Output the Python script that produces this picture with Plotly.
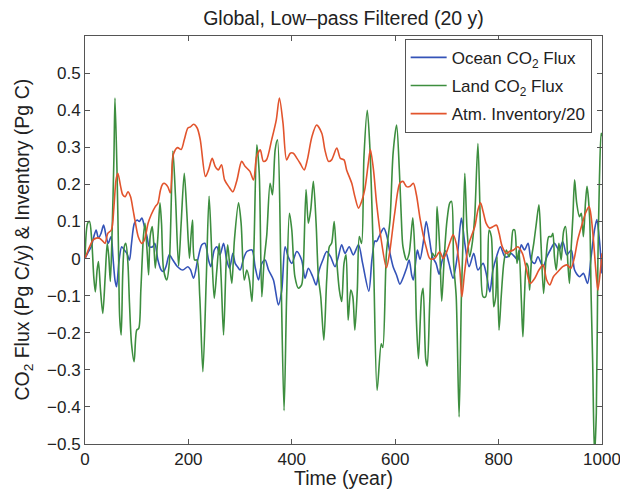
import plotly.graph_objects as go

# ---------------- data ----------------
ocean_years = [0, 5, 12, 17, 21.5, 26, 31, 36, 41, 45, 50.5, 54, 58, 61, 66, 71, 76, 81, 86, 90,
               95.5, 101, 105, 110, 115, 120, 124.5, 131, 135, 141, 147, 152, 157, 163, 170, 179,
               189, 199, 204, 210, 218, 226, 232, 239, 243.5, 250, 255, 261, 268, 274, 279.6, 286,
               290.5, 295, 300, 307, 313, 323, 329, 335.6, 342, 348.5, 355, 364.5, 374, 380.6, 387,
               393, 400, 409.6, 419, 425.6, 432, 440.5, 447, 453, 460, 467.5, 475, 483.6, 490, 496.5,
               503, 511, 519, 529, 537, 549, 555, 561, 564, 569, 578, 584, 590, 596, 602.7, 609,
               615.5, 622, 627, 632, 635, 640, 643, 648, 654, 660, 666, 672, 679, 685, 690, 697,
               704, 712, 720, 728, 734.6, 743, 752, 760, 770, 776, 783, 789, 796, 803.5, 812, 818,
               824, 831, 837, 844, 850, 857, 863, 870, 876, 886, 893.5, 900, 908, 917, 924, 932,
               940.5, 947, 956.5, 964, 972, 979, 985.5, 990, 995, 1000]
ocean_flux = [0.0, 0.014, 0.032, 0.059, 0.077, 0.055, 0.068, 0.09, 0.059, 0.041, 0.059, 0.005, -0.058,
              -0.076, -0.004, 0.032, 0.023, 0.014, -0.004, 0.041, 0.095, 0.104, 0.1, 0.109, 0.086,
              0.059, 0.032, 0.032, 0.041, -0.004, -0.03, -0.035, -0.02, 0.01, -0.004, -0.022, -0.031,
              -0.022, -0.03, -0.053, -0.004, 0.037, 0.041, -0.004, -0.022, 0.023, 0.032, 0.01, 0.041,
              -0.004, -0.026, 0.014, -0.013, -0.022, -0.031, 0.001, 0.019, 0.023, -0.022, -0.058,
              -0.013, -0.004, -0.031, -0.058, -0.125, -0.085, 0.032, 0.005, -0.013, 0.019, -0.004,
              -0.053, -0.026, -0.049, -0.071, -0.031, -0.004, 0.019, 0.005, -0.022, 0.005, 0.037,
              0.014, 0.032, 0.01, 0.037, -0.013, -0.088, -0.002, 0.048, 0.046, 0.06, 0.082, 0.06,
              0.014, -0.022, -0.045, -0.069, -0.051, -0.026, -0.004, -0.045, -0.058, -0.004, 0.023,
              -0.002, 0.041, 0.1, 0.055, 0.005, -0.013, -0.042, -0.01, 0.021, -0.013, -0.053, 0.005,
              0.109, 0.041, -0.022, 0.014, -0.031, -0.013, -0.04, -0.09, -0.031, 0.005, 0.032,
              0.005, 0.005, 0.014, 0.005, -0.004, 0.037, 0.023, 0.041, -0.004, -0.013, 0.005,
              -0.022, 0.005, 0.023, 0.041, 0.023, 0.046, 0.01, 0.023, -0.031, -0.049, -0.04,
              -0.067, 0.005, 0.077, 0.105, 0.05, -0.04]

land_years = [0, 5, 8.7, 13, 17, 20, 23.5, 26, 30, 34.4, 39, 43, 46, 49, 52, 56, 58, 62, 65, 67,
              70, 73, 76, 79, 83, 86, 90, 95, 100, 104, 108, 113, 116, 120, 123, 126, 130, 133, 136,
              141, 145, 148, 152, 158, 163, 170, 175, 181, 186, 192, 197, 202, 205, 208, 212, 216.5,
              222, 228, 234.5, 240, 245.5, 250, 255, 259.6, 263.5, 268, 273, 276, 279.6, 284, 289,
              297, 302, 308, 313, 318, 323, 327, 332.3, 337, 342, 346.5, 351.6, 358, 362.6, 367.8,
              372.3, 378.7, 385, 390, 395.4, 400, 406, 412.8, 419, 422.5, 427.6, 432, 436.6, 441.7,
              447, 451.4, 456, 462, 467.5, 472.6, 477, 482, 486.8, 492, 496.5, 501, 505, 509, 514,
              518, 522, 526.7, 530.6, 535, 539.6, 546, 551, 558, 565, 573, 576, 583, 590, 596,
              602.7, 608, 612, 615, 622, 627, 634, 638, 641, 645, 651, 654, 659, 662, 667, 672, 677,
              681, 686, 690, 695, 700, 705.6, 709, 713, 718, 723.6, 728, 731, 734.6, 739, 744, 749,
              753.8, 760, 765, 770, 775, 781.5, 786, 790.5, 794.4, 797, 800.8, 805, 810, 815, 820,
              824, 828, 831, 835.6, 839.4, 844, 847, 850, 854, 857, 860, 864, 868, 873, 878, 882,
              887, 892, 897, 902, 905, 908, 911.5, 916.6, 921, 925.7, 929.5, 934, 937, 940.5, 943.7,
              947, 951, 956.5, 960, 964, 968, 971, 976, 979, 982, 985.5, 989, 992, 995, 998.4, 1000]
land_flux = [0.0, 0.095, 0.1, 0.05, -0.05, -0.09, -0.03, -0.008, -0.085, -0.148, -0.05, 0.041, 0.005,
             -0.062, 0.05, 0.275, 0.433, 0.23, 0.005, -0.156, -0.206, -0.04, 0.032, 0.041, -0.013,
             -0.12, -0.23, -0.278, -0.193, -0.188, -0.085, 0.059, 0.095, 0.023, -0.044, 0.059, 0.086,
             0.041, -0.026, 0.059, 0.15, 0.095, -0.03, -0.058, -0.013, 0.29, 0.168, -0.02, 0.095,
             0.23, 0.122, 0.001, 0.06, 0.104, -0.004, -0.004, -0.103, -0.305, -0.058, 0.168, 0.005,
             -0.107, -0.031, 0.041, -0.058, -0.206, -0.013, 0.037, -0.013, -0.067, 0.05, 0.15, 0.095,
             -0.058, -0.031, -0.058, -0.116, 0.041, 0.307, 0.23, -0.103, -0.004, 0.064, 0.203, 0.172,
             0.293, 0.32, -0.013, -0.41, -0.103, 0.122, 0.077, -0.049, -0.08, -0.071, -0.013, 0.186,
             0.095, 0.131, 0.208, 0.095, -0.049, -0.103, -0.22, -0.058, 0.032, 0.041, 0.1, -0.004,
             -0.085, -0.116, -0.013, 0.01, -0.166, -0.085, -0.103, -0.193, -0.085, 0.059, 0.041,
             0.275, 0.40, 0.30, 0.0, -0.355, -0.23, -0.24, 0.014, 0.104, 0.285, 0.36, 0.239, 0.104,
             0.032, -0.004, 0.014, 0.11, 0.014, -0.166, -0.27, -0.1, -0.08, -0.27, -0.29, -0.112,
             0.014, 0.005, 0.14, 0.032, -0.115, 0.008, 0.1, 0.15, 0.154, -0.013, -0.103, -0.427,
             -0.103, 0.041, 0.23, 0.077, 0.005, 0.041, 0.113, 0.31, 0.077, -0.103, -0.103, 0.077,
             0.059, -0.13, -0.103, 0.005, -0.193, -0.103, -0.013, 0.023, 0.005, 0.023, 0.077, 0.077,
             -0.013, 0.023, -0.112, -0.211, -0.103, -0.013, -0.022, -0.085, 0.005, 0.041, 0.095,
             0.145, 0.041, -0.094, 0.005, 0.059, 0.059, 0.068, 0.005, -0.031, 0.041, -0.004, 0.073,
             0.086, -0.013, -0.067, 0.032, 0.113, 0.212, 0.15, 0.113, 0.122, 0.059, 0.15, 0.195,
             0.113, -0.103, -0.283, -0.53, -0.418, -0.013, 0.212, 0.338, 0.33]

atm_years = [0, 9, 15.5, 22, 28, 35, 39, 44, 51, 56, 60, 63.5, 69, 73, 78, 83, 88, 93, 97, 103, 110,
             115, 122, 128, 136, 141, 146, 150, 153, 160, 165, 171, 179, 186, 192, 199, 204, 210,
             217, 223, 233, 239, 246, 252, 258, 264, 270, 278, 286, 294, 303, 310, 319, 326, 332,
             339, 345, 351, 361, 370, 376, 383, 390, 397, 403, 410, 416, 424, 430, 439, 448, 458,
             464, 471, 477, 487, 494, 501, 506, 516, 522, 529, 535, 541, 548, 552, 558, 564, 573,
             583, 589, 599, 609, 615, 622, 628, 635, 641, 648, 654, 660, 667, 676, 686, 693, 699,
             706, 712, 718, 725, 729, 734, 741, 747, 754, 760, 765, 770, 776, 783, 789, 796, 801,
             807, 815, 821, 829, 837, 846, 854, 861, 870, 878, 886, 893, 899, 906, 915, 924, 932,
             940, 947, 953, 962, 968, 975, 979, 984, 988, 992, 997, 1000]
atm_inventory = [0.0, 0.032, 0.05, 0.055, 0.055, 0.046, 0.041, 0.068, 0.077, 0.14, 0.212, 0.23, 0.194,
                 0.172, 0.167, 0.18, 0.167, 0.131, 0.10, 0.059, 0.041, 0.05, 0.095, 0.118, 0.14, 0.149,
                 0.185, 0.2, 0.203, 0.194, 0.177, 0.281, 0.299, 0.294, 0.32, 0.352, 0.355, 0.362,
                 0.352, 0.32, 0.221, 0.239, 0.27, 0.248, 0.239, 0.253, 0.212, 0.194, 0.18, 0.212,
                 0.262, 0.248, 0.235, 0.212, 0.275, 0.293, 0.262, 0.266, 0.32, 0.374, 0.433, 0.365,
                 0.266, 0.284, 0.284, 0.27, 0.257, 0.239, 0.266, 0.329, 0.36, 0.338, 0.293, 0.262,
                 0.266, 0.298, 0.27, 0.266, 0.239, 0.203, 0.167, 0.136, 0.154, 0.185, 0.257, 0.294,
                 0.239, 0.149, 0.05, -0.025, 0.014, 0.122, 0.203, 0.208, 0.194, 0.194, 0.203, 0.172,
                 0.108, 0.064, 0.03, 0.0, 0.0, 0.018, 0.0, 0.016, 0.044, 0.064, 0.041, -0.031, -0.103,
                 -0.04, 0.032, 0.059, 0.086, 0.131, 0.15, 0.127, 0.095, 0.082, 0.086, 0.09, 0.068,
                 0.032, 0.014, 0.019, 0.023, 0.032, 0.014, -0.031, -0.067, -0.053, -0.031, -0.017,
                 -0.058, -0.071, -0.049, -0.035, -0.022, -0.017, -0.026, 0.005, 0.05, 0.095, 0.122,
                 0.14, 0.113, 0.041, -0.031, -0.085, -0.031, 0.014]

x_ticks = [0, 200, 400, 600, 800, 1000]
y_ticks = [-0.5, -0.4, -0.3, -0.2, -0.1, 0, 0.1, 0.2, 0.3, 0.4, 0.5]
y_tick_labels = ["\u22120.5", "\u22120.4", "\u22120.3", "\u22120.2", "\u22120.1", "0",
                 "0.1", "0.2", "0.3", "0.4", "0.5"]

FONT = "Liberation Sans, Arial, Helvetica, sans-serif"
TXT = "#222222"

fig = go.Figure()
fig.add_trace(go.Scatter(x=ocean_years, y=ocean_flux, mode="lines", name="Ocean CO<sub>2</sub> Flux",
                         line=dict(color="#3453b8", width=1.6, shape="spline", smoothing=0.8),
                         legendgroup="a"))
fig.add_trace(go.Scatter(x=land_years, y=land_flux, mode="lines", name="Land CO<sub>2</sub> Flux",
                         line=dict(color="#3d8e3f", width=1.6, shape="spline", smoothing=0.8),
                         legendgroup="b"))
fig.add_trace(go.Scatter(x=atm_years, y=atm_inventory, mode="lines", name="Atm. Inventory/20",
                         line=dict(color="#e2542d", width=1.6, shape="spline", smoothing=0.8),
                         legendgroup="c"))

axis_common = dict(showline=True, linecolor="#555555", linewidth=1, mirror="ticks",
                   ticks="inside", ticklen=5, tickcolor="#555555", showgrid=False,
                   zeroline=False, automargin=False,
                   tickfont=dict(family=FONT, size=17, color=TXT))

# the page body adds an 8 px offset, so the figure is 8 px smaller on each side
W, H = 620, 481
ML, MR, MT, MB = 76.5, 25.5, 27.5, 45

fig.update_layout(
    width=W, height=H,
    margin=dict(l=ML, r=MR, t=MT, b=MB, autoexpand=False),
    paper_bgcolor="white", plot_bgcolor="white",
    font=dict(family=FONT, color=TXT),
    title=dict(text="Global, Low\u2013pass Filtered (20 y)", x=(ML + 518 / 2) / W,
               xanchor="center", yref="container", y=1 - 10.5 / H, yanchor="middle",
               font=dict(family=FONT, size=19.5, color=TXT)),
    xaxis=dict(range=[0, 1000], tickvals=x_ticks, **axis_common),
    yaxis=dict(range=[-0.5, 0.6], tickvals=y_ticks, ticktext=y_tick_labels, **axis_common),
    legend=dict(x=0.98, xanchor="right", y=0.993, yanchor="top",
                bordercolor="#555555", borderwidth=1, bgcolor="white",
                font=dict(family=FONT, size=17, color=TXT), itemwidth=36,
                tracegroupgap=3, traceorder="grouped"),
    showlegend=True,
    annotations=[
        dict(text="Time (year)", xref="paper", yref="paper", x=0.5, y=-34 / 408.5,
             xanchor="center", yanchor="middle", showarrow=False,
             font=dict(family=FONT, size=19.5, color=TXT)),
        dict(text="CO<sub>2</sub> Flux (Pg C/y) & Inventory (Pg C)", xref="paper", yref="paper",
             x=(14 - ML) / 518, y=0.5, xanchor="center", yanchor="middle", textangle=-90,
             showarrow=False, font=dict(family=FONT, size=19.5, color=TXT)),
    ],
)

fig.write_html("out.html")
